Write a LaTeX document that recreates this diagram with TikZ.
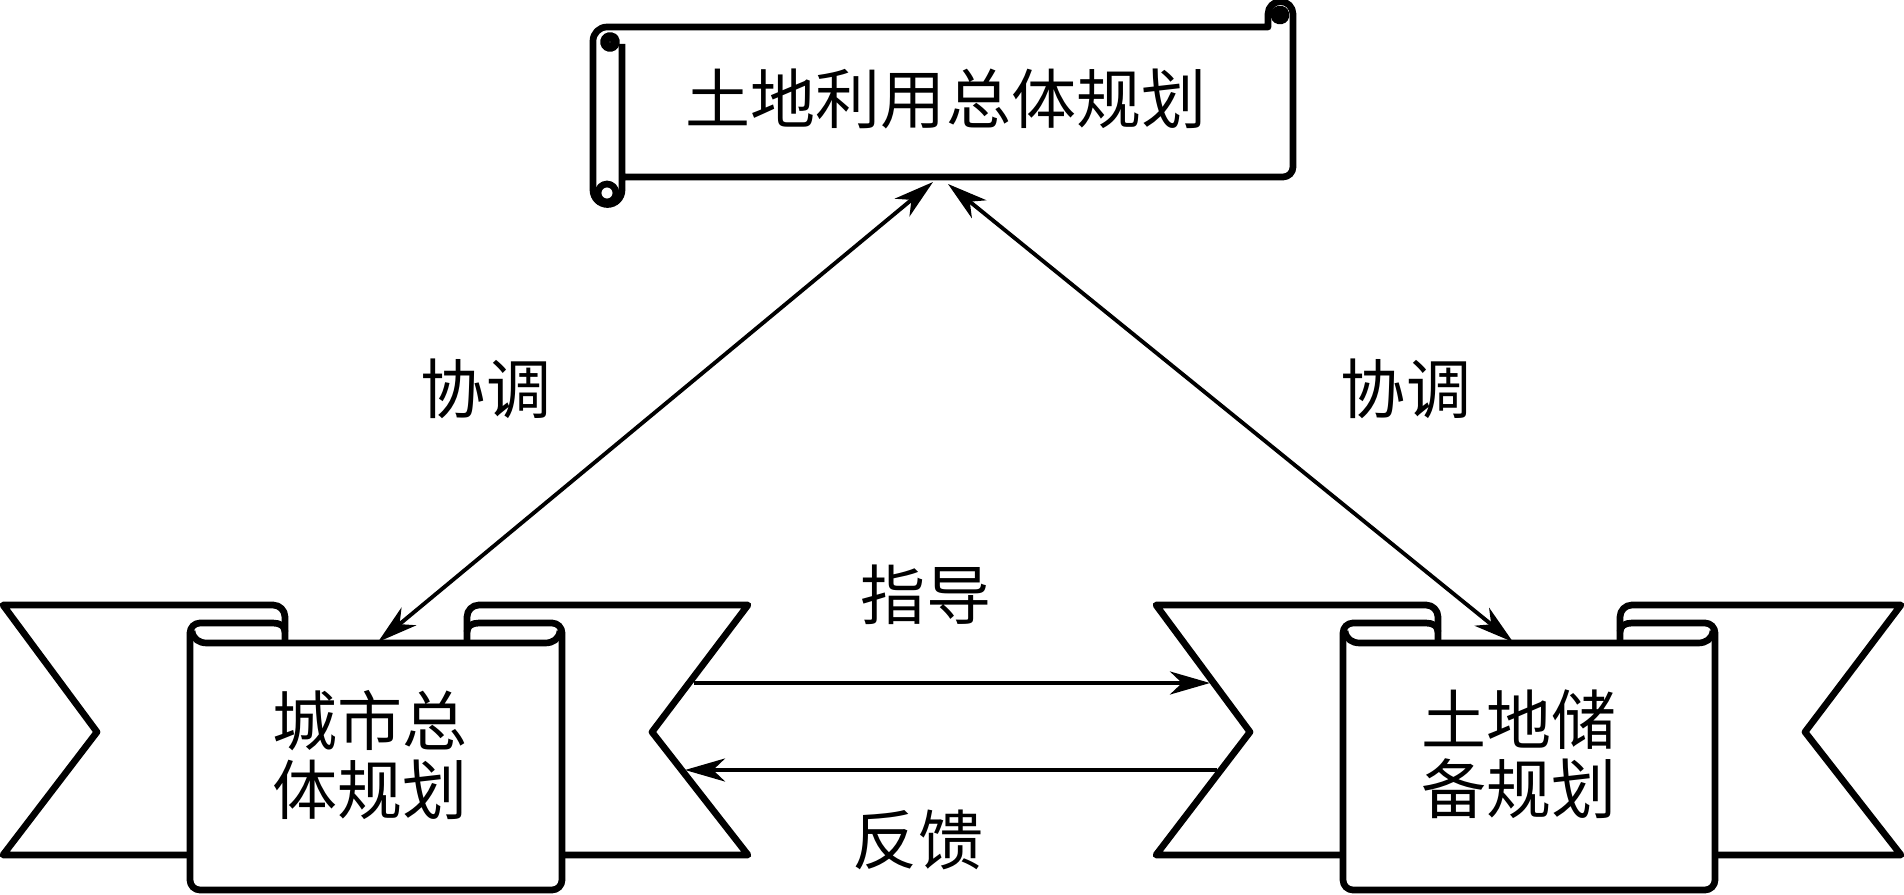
\documentclass[tikz,border=0pt]{standalone}
\usepackage{fontspec}
\newfontfamily\cjk{Noto Sans CJK SC}
\usetikzlibrary{arrows.meta}

\tikzset{
  outline/.style={draw=black, line width=1.9pt, line join=round},
  link/.style={draw=black, line width=1.1pt, {Stealth[length=0.4cm, width=0.23cm, inset=0.12cm]}-{Stealth[length=0.4cm, width=0.23cm, inset=0.12cm]}},
  linkto/.style={draw=black, line width=1.1pt, -{Stealth[length=0.4cm, width=0.23cm, inset=0.12cm]}},
  label/.style={font=\cjk\fontsize{18.5pt}{19.5pt}\selectfont, inner sep=0pt}
}

\begin{document}
\begin{tikzpicture}
  \useasboundingbox (0,0) rectangle (19.04,8.94);

  % Draw the scroll on top
  \draw[outline] (6.22,8.50) -- (6.22,7.04) arc[start angle=0, end angle=-180, radius=0.145]
    -- (5.93,8.53) arc[start angle=180, end angle=90, radius=0.14] -- (12.68,8.67)
    -- (12.68,8.80) arc[start angle=180, end angle=0, radius=0.125]
    -- (12.93,7.27) arc[start angle=0, end angle=-90, radius=0.10] -- (6.22,7.17);
  \draw[outline, line width=2.6pt] (6.10,8.52) circle[radius=0.055];
  \draw[outline] (6.07,7.01) circle[radius=0.09];
  \draw[outline, line width=2.6pt] (12.80,8.79) circle[radius=0.05];
  \node[label] (tdly) at (9.46,7.95) {土地利用总体规划};

  % Draw the two ribbons
  \foreach \dx in {0,11.53} {
    \begin{scope}[xshift=\dx cm]
      % back part
      \draw[outline] (2.85,2.51) -- (2.85,2.77) arc[start angle=0, end angle=90, radius=0.12]
        -- (0.03,2.89) -- (0.97,1.62) -- (0.03,0.39) -- (1.90,0.39);
      \draw[outline] (4.67,2.51) -- (4.67,2.77) arc[start angle=180, end angle=90, radius=0.12]
        -- (7.48,2.89) -- (6.52,1.62) -- (7.48,0.39) -- (5.62,0.39);
      % front panel with its rolls
      \draw[outline] (2.85,2.62) .. controls (2.85,2.68) and (2.80,2.71) .. (2.73,2.71)
        -- (2.00,2.71) arc[start angle=90, end angle=180, radius=0.10]
        -- (1.90,0.14) arc[start angle=180, end angle=270, radius=0.10]
        -- (5.52,0.04) arc[start angle=270, end angle=360, radius=0.10]
        -- (5.62,2.61) arc[start angle=0, end angle=90, radius=0.10]
        -- (4.79,2.71) .. controls (4.72,2.71) and (4.67,2.68) .. (4.67,2.62);
      \draw[outline] (1.92,2.63) .. controls (1.93,2.55) and (1.99,2.51) .. (2.07,2.51)
        -- (5.45,2.51) .. controls (5.53,2.51) and (5.59,2.55) .. (5.60,2.63);
    \end{scope}
  }
  \node[label, align=left] (csgh) at (3.70,1.39) {城市总\\体规划};
  \node[label, align=left] (tdcb) at (15.19,1.40) {土地储\\备规划};

  % Arrows
  \coordinate (zgL) at (9.33,7.12);
  \coordinate (zgR) at (9.48,7.10);
  \coordinate (csTop) at (3.78,2.52);
  \coordinate (cbTop) at (15.13,2.52);
  \coordinate (csOut) at (6.94,2.11);
  \coordinate (cbIn) at (12.10,2.11);
  \coordinate (cbOut) at (12.17,1.24);
  \coordinate (csIn) at (6.85,1.24);
  \draw[link] (zgL) -- (csTop);
  \draw[link] (zgR) -- (cbTop);
  \draw[linkto] (csOut) -- (cbIn);
  \draw[linkto] (cbOut) -- (csIn);

  % Labels
  \node[label] (xtL) at (4.86,5.05) {协调};
  \node[label] (xtR) at (14.06,5.05) {协调};
  \node[label] (zd) at (9.26,2.99) {指导};
  \node[label] (fk) at (9.18,0.54) {反馈};
\end{tikzpicture}
\end{document}
